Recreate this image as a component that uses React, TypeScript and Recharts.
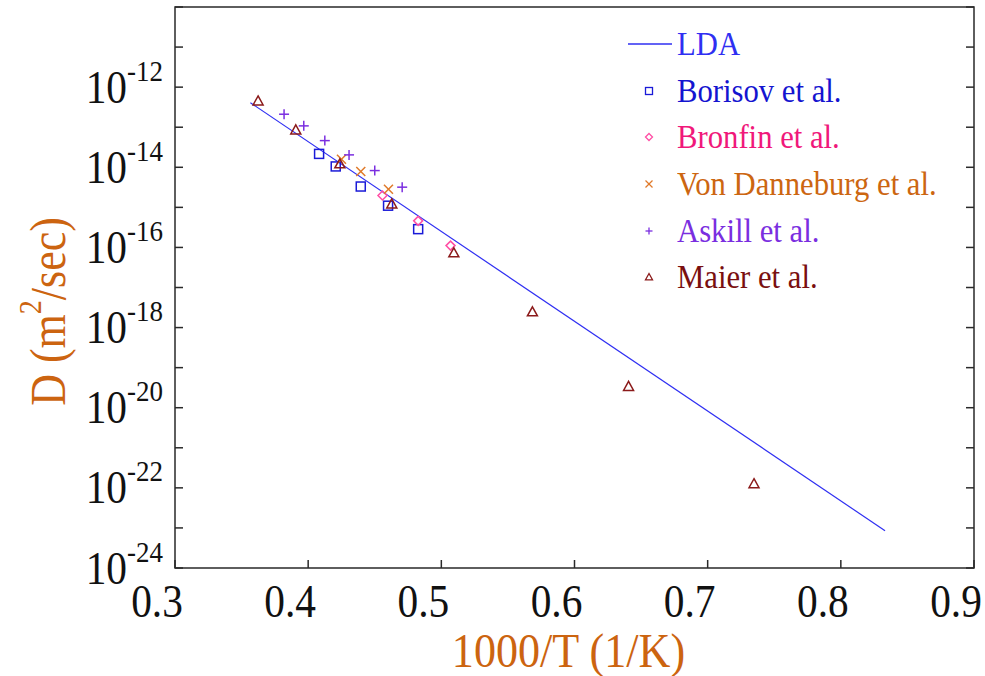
import React from 'react';
import { ComposedChart, Scatter, Line, XAxis, YAxis, ReferenceArea, Legend, Label } from 'recharts';

// ---- data ----
const xTicks = [0.3, 0.4, 0.5, 0.6, 0.7, 0.8, 0.9];
const yTickExponents = [-24, -23, -22, -21, -20, -19, -18, -17, -16, -15, -14, -13, -12, -11, -10];
const yLabelledExponents = [-24, -22, -20, -18, -16, -14, -12];

const ldaX = [0.3566, 0.8332];
const ldaD = [4.1e-13, 8.51e-24];

const borisovX = [0.4082, 0.4207, 0.4395, 0.46, 0.4826];
const borisovD = [2.16e-14, 1.05e-14, 3.31e-15, 1.1e-15, 2.86e-16];

const bronfinX = [0.4558, 0.4826, 0.5069];
const bronfinD = [1.97e-15, 4.6e-16, 1.11e-16];

const danneburgX = [0.425, 0.4395, 0.4603];
const danneburgD = [1.58e-14, 7.82e-15, 2.84e-15];

const askillX = [0.3819, 0.3967, 0.4125, 0.4307, 0.45, 0.4706];
const askillD = [2.11e-13, 1.08e-13, 4.63e-14, 2.04e-14, 8.28e-15, 3.19e-15];

const maierX = [0.3624, 0.3907, 0.4238, 0.4628, 0.5094, 0.5684, 0.6406, 0.7348];
const maierD = [4.53e-13, 8.57e-14, 1.22e-14, 1.22e-15, 7.33e-17, 2.48e-18, 3.4e-20, 1.27e-22];

const seriesNames = ['LDA', 'Borisov et al.', 'Bronfin et al.', 'Von Danneburg et al.', 'Askill et al.', 'Maier et al.'];

// ---- styling ----
const FONT = '"Liberation Serif", "Times New Roman", serif';
const TITLE_COLOR = '#cc6410';
const FRAME = '#2a2a2a';

const C = {
  lda: '#2f2ff2',
  borisov: { mark: '#1a1ad8', text: '#1414d0' },
  bronfin: { mark: '#ff4fa5', text: '#f0187a' },
  danneburg: { mark: '#e07a2a', text: '#cc6611' },
  askill: { mark: '#7b2fe0', text: '#7a2ee0' },
  maier: { mark: '#8b1a1a', text: '#7a0f0f' },
};

const zip = (xs: number[], ds: number[]) => xs.map((x, i) => ({ x, d: ds[i] }));

// ---- markers ----
type Kind = 'square' | 'diamond' | 'cross' | 'plus' | 'triangle';
const drawMarker = (kind: Kind, cx: number, cy: number, r: number, color: string, sw: number) => {
  switch (kind) {
    case 'square':
      return <rect x={cx - r} y={cy - r} width={2 * r} height={2 * r} fill="none" stroke={color} strokeWidth={sw} />;
    case 'diamond':
      return (
        <polygon
          points={`${cx},${cy - r} ${cx + r},${cy} ${cx},${cy + r} ${cx - r},${cy}`}
          fill="none"
          stroke={color}
          strokeWidth={sw}
        />
      );
    case 'cross':
      return (
        <g stroke={color} strokeWidth={sw}>
          <line x1={cx - r} y1={cy - r} x2={cx + r} y2={cy + r} />
          <line x1={cx - r} y1={cy + r} x2={cx + r} y2={cy - r} />
        </g>
      );
    case 'plus':
      return (
        <g stroke={color} strokeWidth={sw}>
          <line x1={cx - r} y1={cy} x2={cx + r} y2={cy} />
          <line x1={cx} y1={cy - r} x2={cx} y2={cy + r} />
        </g>
      );
    case 'triangle':
    default:
      return (
        <polygon
          points={`${cx},${cy - r} ${cx + r},${cy + r * 0.8} ${cx - r},${cy + r * 0.8}`}
          fill="none"
          stroke={color}
          strokeWidth={sw}
        />
      );
  }
};

const shapeFor = (kind: Kind, color: string, r: number) => (props: any) => {
  const { cx, cy } = props;
  if (cx == null || cy == null) return <g />;
  return drawMarker(kind, cx, cy, r, color, 1.5);
};

// ---- ticks ----
const SX = 0.9;

const XTick = (props: any) => {
  const { x, y, payload } = props;
  return (
    <g>
      <line x1={x} y1={y} x2={x} y2={y - 8} stroke={FRAME} strokeWidth={1.5} />
      <text
        transform={`translate(${x - 18}, ${y + 49}) scale(${SX}, 1)`}
        textAnchor="middle"
        fontFamily={FONT}
        fontSize={46}
        fill="#111"
      >
        {Number(payload.value).toFixed(1)}
      </text>
    </g>
  );
};

const YTickLeft = (props: any) => {
  const { x, y, payload } = props;
  const e = Math.round(Math.log10(payload.value));
  const labelled = yLabelledExponents.includes(e);
  return (
    <g>
      <line x1={x} y1={y} x2={x + 8} y2={y} stroke={FRAME} strokeWidth={1.5} />
      {labelled && (
        <text
          transform={`translate(${x - 12}, ${y + 15.5}) scale(${SX}, 1)`}
          textAnchor="end"
          fontFamily={FONT}
          fill="#111"
        >
          <tspan fontSize={46}>10</tspan>
          <tspan fontSize={30} dy={-22}>{`-${Math.abs(e)}`}</tspan>
        </text>
      )}
    </g>
  );
};

const YTickRight = (props: any) => {
  const { x, y } = props;
  return <line x1={x} y1={y} x2={x - 8} y2={y} stroke={FRAME} strokeWidth={1.5} />;
};

const XTitle = (props: any) => {
  const vb = props.viewBox || {};
  return (
    <text
      transform={`translate(${vb.x + vb.width / 2 - 6}, ${vb.y + 99}) scale(0.92, 1)`}
      textAnchor="middle"
      fontFamily={FONT}
      fontSize={48}
      fill={TITLE_COLOR}
    >
      1000/T (1/K)
    </text>
  );
};

const YTitle = (props: any) => {
  const vb = props.viewBox || {};
  const cx = 48;
  const cy = vb.y + vb.height / 2 + 24;
  return (
    <text
      transform={`translate(${cx}, ${cy}) rotate(-90) scale(0.88, 1)`}
      textAnchor="middle"
      dominantBaseline="central"
      fontFamily={FONT}
      fill={TITLE_COLOR}
      fontSize={50}
    >
      <tspan>D (m</tspan>
      <tspan fontSize={32} dy={-18}>2</tspan>
      <tspan dy={18}>/sec)</tspan>
    </text>
  );
};

// ---- legend ----
const legendItems: { name: string; kind: Kind | 'line'; mark: string; text: string }[] = [
  { name: seriesNames[0], kind: 'line', mark: C.lda, text: C.lda },
  { name: seriesNames[1], kind: 'square', mark: C.borisov.mark, text: C.borisov.text },
  { name: seriesNames[2], kind: 'diamond', mark: C.bronfin.mark, text: C.bronfin.text },
  { name: seriesNames[3], kind: 'cross', mark: C.danneburg.mark, text: C.danneburg.text },
  { name: seriesNames[4], kind: 'plus', mark: C.askill.mark, text: C.askill.text },
  { name: seriesNames[5], kind: 'triangle', mark: C.maier.mark, text: C.maier.text },
];

const LegendContent = () => (
  <div style={{ fontFamily: FONT }}>
    {legendItems.map((it) => (
      <div key={it.name} style={{ display: 'flex', alignItems: 'center', height: 46.6 }}>
        <svg width={57} height={46} style={{ flex: 'none' }}>
          {it.kind === 'line' ? (
            <line x1={8} y1={23} x2={52} y2={23} stroke={it.mark} strokeWidth={1.3} />
          ) : (
            drawMarker(it.kind as Kind, 29, 23, 3.5, it.mark, 1.3)
          )}
        </svg>
        <span
          style={{
            fontSize: 33,
            color: it.text,
            whiteSpace: 'nowrap',
            lineHeight: '46px',
            display: 'inline-block',
            transform: 'scaleX(0.93)',
            transformOrigin: 'left center',
          }}
        >
          {it.name}
        </span>
      </div>
    ))}
  </div>
);

export default function App() {
  const yTicks = yTickExponents.map((e) => Math.pow(10, e));
  return (
    <div style={{ position: 'absolute', left: 0, top: 0, width: 985, height: 676, background: '#fff' }}>
      <ComposedChart width={985} height={676} margin={{ top: 7, right: 0, bottom: 0, left: 0 }}>
        <XAxis
          type="number"
          dataKey="x"
          domain={[0.3, 0.9]}
          ticks={xTicks}
          allowDataOverflow
          axisLine={false}
          tickLine={false}
          tickSize={0}
          tickMargin={0}
          height={108}
          tick={<XTick />}
          interval={0}
        >
          <Label content={<XTitle />} />
        </XAxis>
        <YAxis
          yAxisId="left"
          type="number"
          dataKey="d"
          scale="log"
          domain={[1e-24, 1e-10]}
          ticks={yTicks}
          allowDataOverflow
          axisLine={false}
          tickLine={false}
          tickSize={0}
          tickMargin={0}
          width={175}
          tick={<YTickLeft />}
          interval={0}
        >
          <Label content={<YTitle />} />
        </YAxis>
        <YAxis
          yAxisId="right"
          orientation="right"
          type="number"
          scale="log"
          domain={[1e-24, 1e-10]}
          ticks={yTicks}
          allowDataOverflow
          axisLine={false}
          tickLine={false}
          tickSize={0}
          tickMargin={0}
          width={11}
          tick={<YTickRight />}
          interval={0}
        />
        <ReferenceArea
          yAxisId="left"
          x1={0.3}
          x2={0.9}
          y1={1e-24}
          y2={1e-10}
          fill="none"
          fillOpacity={0}
          stroke={FRAME}
          strokeWidth={1.5}
          ifOverflow="visible"
        />
        <Line
          yAxisId="left"
          data={zip(ldaX, ldaD)}
          dataKey="d"
          name={seriesNames[0]}
          type="linear"
          stroke={C.lda}
          strokeWidth={1.2}
          dot={false}
          isAnimationActive={false}
        />
        <Scatter yAxisId="left" name={seriesNames[1]} data={zip(borisovX, borisovD)} shape={shapeFor('square', C.borisov.mark, 4.5)} isAnimationActive={false} />
        <Scatter yAxisId="left" name={seriesNames[2]} data={zip(bronfinX, bronfinD)} shape={shapeFor('diamond', C.bronfin.mark, 4.5)} isAnimationActive={false} />
        <Scatter yAxisId="left" name={seriesNames[3]} data={zip(danneburgX, danneburgD)} shape={shapeFor('cross', C.danneburg.mark, 4.5)} isAnimationActive={false} />
        <Scatter yAxisId="left" name={seriesNames[4]} data={zip(askillX, askillD)} shape={shapeFor('plus', C.askill.mark, 5)} isAnimationActive={false} />
        <Scatter yAxisId="left" name={seriesNames[5]} data={zip(maierX, maierD)} shape={shapeFor('triangle', C.maier.mark, 5)} isAnimationActive={false} />
        <Legend
          layout="horizontal"
          verticalAlign="middle"
          align="center"
          content={<LegendContent />}
          wrapperStyle={{ position: 'absolute', left: 620, top: 21, width: 360, height: 280 }}
        />
      </ComposedChart>
    </div>
  );
}
